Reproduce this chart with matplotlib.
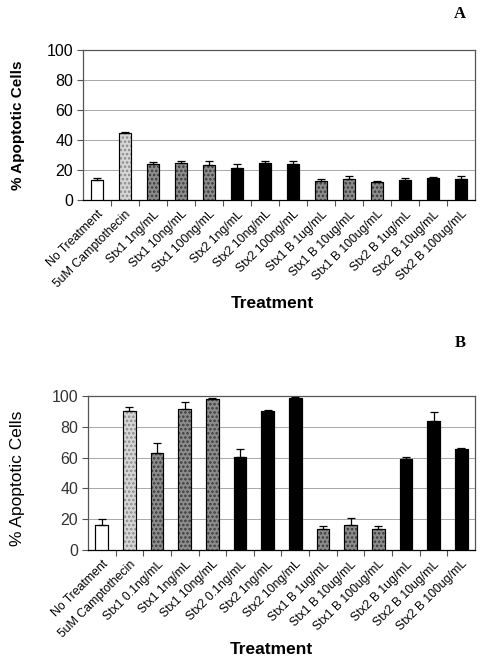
import matplotlib
matplotlib.use("Agg")
import matplotlib.pyplot as plt
import matplotlib.transforms as mtransforms
import numpy as np

plt.rcParams['font.family'] = ['Liberation Sans', 'DejaVu Sans']
plt.rcParams['hatch.linewidth'] = 1.2

cats_a = ["No Treatment", "5uM Camptothecin", "Stx1 1ng/mL", "Stx1 10ng/mL", "Stx1 100ng/mL",
          "Stx2 1ng/mL", "Stx2 10ng/mL", "Stx2 100ng/mL", "Stx1 B 1ug/mL", "Stx1 B 10ug/mL",
          "Stx1 B 100ug/mL", "Stx2 B 1ug/mL", "Stx2 B 10ug/mL", "Stx2 B 100ug/mL"]
vals_a = [13.3, 44.8, 24.0, 24.5, 23.5, 21.2, 24.8, 23.9, 12.8, 13.7, 12.1, 13.6, 14.8, 13.9]
err_a = [1.7, 0.8, 1.6, 1.6, 2.6, 2.8, 1.5, 2.0, 1.5, 2.0, 0.8, 1.4, 0.4, 1.8]

cats_b = ["No Treatment", "5uM Camptothecin", "Stx1 0.1ng/mL", "Stx1 1ng/mL", "Stx1 10ng/mL",
          "Stx2 0.1ng/mL", "Stx2 1ng/mL", "Stx2 10ng/mL", "Stx1 B 1ug/mL", "Stx1 B 10ug/mL",
          "Stx1 B 100ug/mL", "Stx2 B 1ug/mL", "Stx2 B 10ug/mL", "Stx2 B 100ug/mL"]
vals_b = [16.5, 90.0, 62.8, 91.8, 97.8, 60.4, 90.0, 99.0, 13.4, 16.2, 13.8, 59.4, 84.0, 65.8]
err_b = [3.7, 3.0, 6.7, 4.5, 1.1, 5.4, 0.6, 0.4, 2.2, 4.9, 2.1, 1.2, 5.6, 0.5]

groups = ["none", "campto", "stx1", "stx1", "stx1", "stx2", "stx2", "stx2",
          "stx1", "stx1", "stx1", "stx2", "stx2", "stx2"]
styles = {
    "none": dict(color="white", hatch=None, edge="black"),
    "campto": dict(color="#d6d6d6", hatch="....", edge="#8a8a8a"),
    "stx1": dict(color="#8c8c8c", hatch="....", edge="#3a3a3a"),
    "stx2": dict(color="black", hatch=None, edge="black"),
}

W, H = 483, 661
fig = plt.figure(figsize=(W / 100, H / 100), dpi=100)

def panel(rect, cats, vals, errs, tick_size, tick_color):
    ax = fig.add_axes(rect)
    x = np.arange(len(cats))
    for i, (v, e, g) in enumerate(zip(vals, errs, groups)):
        st = styles[g]
        ax.bar(x[i], v, width=0.46, color=st["color"], edgecolor=st["edge"],
               hatch=st["hatch"], linewidth=0.8, zorder=3)
        ax.bar(x[i], v, width=0.46, color="none", edgecolor="black", linewidth=0.8, zorder=4)
        ax.errorbar(x[i], v, yerr=[[0], [e]], fmt="none", ecolor="black",
                    elinewidth=0.9, capsize=3, capthick=0.9, zorder=5)
    ax.set_xlim(-0.5, len(cats) - 0.5)
    ax.set_ylim(0, 100)
    ax.set_yticks([0, 20, 40, 60, 80, 100])
    ax.yaxis.grid(True, color="#9a9a9a", linewidth=0.6, zorder=0)
    ax.set_axisbelow(True)
    for s in ax.spines.values():
        s.set_color("#555555")
        s.set_linewidth(0.9)
    ax.spines["bottom"].set_color("black")
    ax.set_xticks(x)
    ax.set_xticklabels(cats, rotation=45, ha="right", rotation_mode="anchor", fontsize=8.8)
    offset = mtransforms.ScaledTranslation(-6 / 100, -2 / 100, fig.dpi_scale_trans)
    for lab in ax.get_xticklabels():
        lab.set_transform(lab.get_transform() + offset)
    ax.tick_params(axis="x", length=0, pad=6)
    ax.set_xticks(np.arange(len(cats) - 1) + 0.5, minor=True)
    ax.tick_params(axis="x", which="minor", length=4, width=0.8, color="#555555")
    ax.tick_params(axis="y", length=4, width=0.8, labelsize=tick_size, color="#555555",
                   labelcolor=tick_color, pad=3)
    return ax

axA = panel([83 / W, 1 - 200 / H, 392 / W, 150 / H], cats_a, vals_a, err_a, 11.5, "black")
axB = panel([88 / W, 1 - 550 / H, 387 / W, 154 / H], cats_b, vals_b, err_b, 11.5, "#333333")

# axis titles
fig.text(18 / W, 1 - 125 / H, "% Apoptotic Cells", rotation=90, fontsize=11,
         fontweight="bold", ha="center", va="center")
fig.text(18 / W, 1 - 478 / H, "% Apoptotic Cells", rotation=90, fontsize=12.5,
         ha="center", va="center")
fig.text(272 / W, 1 - 303 / H, "Treatment", fontsize=12.5, fontweight="bold",
         ha="center", va="center")
fig.text(271 / W, 1 - 649 / H, "Treatment", fontsize=12.5, fontweight="bold",
         ha="center", va="center")

fig.text(460 / W, 1 - 14 / H, "A", family="Liberation Serif", fontweight="bold",
         fontsize=12, ha="center", va="center")
fig.text(460 / W, 1 - 343 / H, "B", family="Liberation Serif", fontweight="bold",
         fontsize=12, ha="center", va="center")

fig.savefig("out.png", dpi=100)
